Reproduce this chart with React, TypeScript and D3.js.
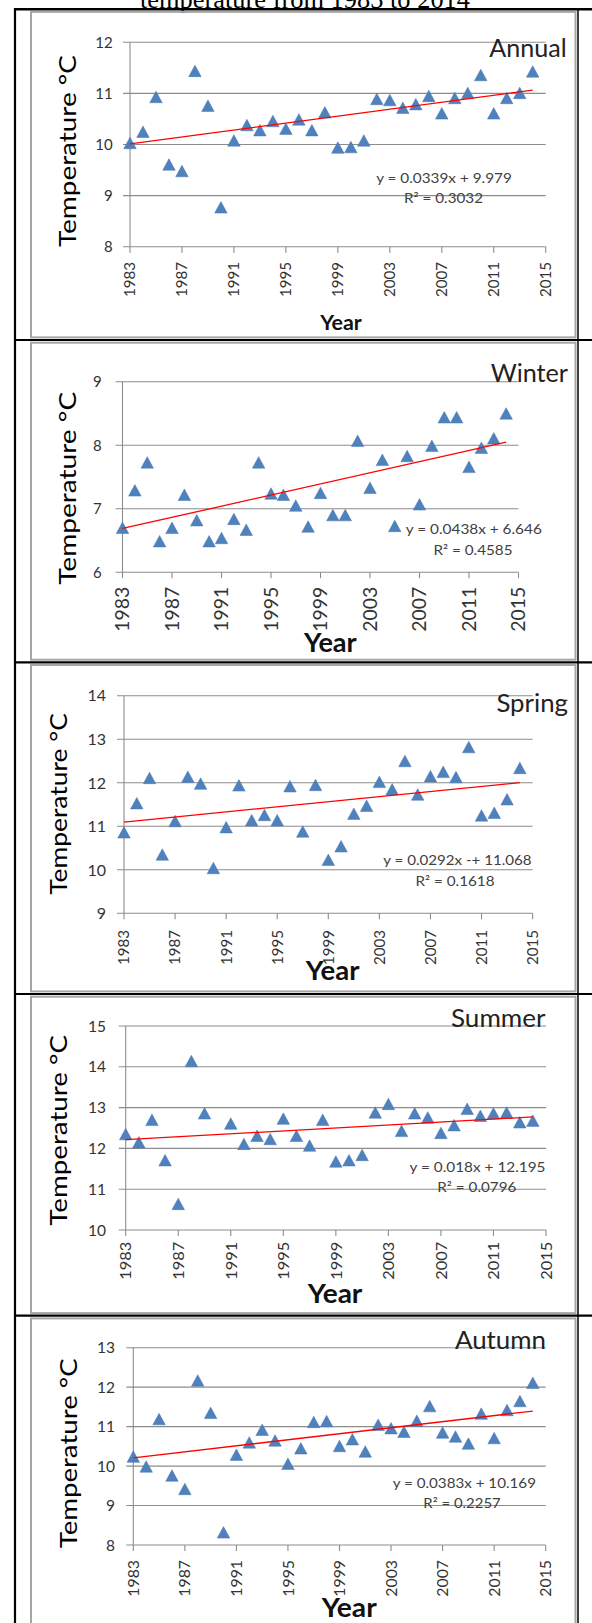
import React from 'react';
import * as d3 from 'd3';

const years = [1983, 1984, 1985, 1986, 1987, 1988, 1989, 1990, 1991, 1992, 1993, 1994, 1995, 1996, 1997, 1998,
  1999, 2000, 2001, 2002, 2003, 2004, 2005, 2006, 2007, 2008, 2009, 2010, 2011, 2012, 2013, 2014];

const annualTemp = [10.03, 10.25, 10.93, 9.61, 9.48, 11.44, 10.76, 8.77, 10.08, 10.38, 10.28, 10.46, 10.31, 10.49, 10.28, 10.63,
  9.94, 9.95, 10.08, 10.89, 10.87, 10.72, 10.79, 10.95, 10.61, 10.91, 11.01, 11.36, 10.61, 10.91, 11.01, 11.43];
const winterTemp = [6.70, 7.29, 7.73, 6.49, 6.70, 7.22, 6.82, 6.49, 6.54, 6.84, 6.67, 7.73, 7.24, 7.22, 7.05, 6.72,
  7.25, 6.90, 6.90, 8.07, 7.33, 7.77, 6.73, 7.83, 7.07, 7.99, 8.44, 8.44, 7.66, 7.96, 8.11, 8.50];
const springTemp = [10.86, 11.53, 12.11, 10.35, 11.12, 12.14, 11.98, 10.04, 10.98, 11.94, 11.14, 11.26, 11.14, 11.92, 10.88, 11.95,
  10.23, 10.54, 11.29, 11.47, 12.02, 11.85, 12.50, 11.73, 12.15, 12.25, 12.13, 12.82, 11.25, 11.31, 11.62, 12.34];
const summerTemp: (number | null)[] = [12.35, 12.15, 12.70, 11.71, 10.64, 14.14, 12.86, null, 12.61, 12.11, 12.31, 12.23, 12.73, 12.31, 12.07, 12.70,
  11.68, 11.71, 11.84, 12.88, 13.09, 12.43, 12.86, 12.76, 12.38, 12.57, 12.97, 12.80, 12.86, 12.88, 12.64, 12.68];
const autumnTemp = [10.24, 9.99, 11.19, 9.76, 9.42, 12.17, 11.35, 8.32, 10.29, 10.60, 10.92, 10.65, 10.06, 10.45, 11.12, 11.14,
  10.51, 10.68, 10.37, 11.05, 10.96, 10.87, 11.15, 11.52, 10.85, 10.75, 10.57, 11.33, 10.71, 11.42, 11.65, 12.11];

const seasonNames = ['Annual', 'Winter', 'Spring', 'Summer', 'Autumn'];
const xTickYears = [1983, 1987, 1991, 1995, 1999, 2003, 2007, 2011, 2015];
const annualTicks = [8, 9, 10, 11, 12];
const winterTicks = [6, 7, 8, 9];
const springTicks = [9, 10, 11, 12, 13, 14];
const summerTicks = [10, 11, 12, 13, 14, 15];
const autumnTicks = [8, 9, 10, 11, 12, 13];
const trendSlopes = [0.0339, 0.0438, 0.0292, 0.018, 0.0383];
const trendIntercepts = [9.979, 6.646, 11.068, 12.195, 10.169];
const equationLabels = ['y = 0.0339x + 9.979', 'y = 0.0438x + 6.646', 'y = 0.0292x -+ 11.068', 'y = 0.018x + 12.195', 'y = 0.0383x + 10.169'];
const r2Labels = ['R\u00B2 = 0.3032', 'R\u00B2 = 0.4585', 'R\u00B2 = 0.1618', 'R\u00B2 = 0.0796', 'R\u00B2 = 0.2257'];
const titleText = 'temperature from 1983 to 2014';

const seriesList = [annualTemp, winterTemp, springTemp, summerTemp, autumnTemp];
const tickList = [annualTicks, winterTicks, springTicks, summerTicks, autumnTicks];

// layout (pixel geometry of each panel)
const layouts = [
  { left: 130, right: 545.7, top: 42.3, bottom: 246.7, yLabEnd: 112.7, yFs: 15, xLabTop: 262, xLen: 35, xFs: 15,
    tBase: 75.5, tMid: 151, tLen: 192, yearX: 341, yearBase: 330, yearLen: 41.7, yearFs: 20,
    nameRight: 566.7, nameBase: 56.5, nameLen: 77.4, eqX: 444, eqBase: 183, eqLen: 135.7, r2X: 443.5, r2Base: 202.5, r2Len: 79 },
  { left: 122.5, right: 518.5, top: 381.7, bottom: 572.3, yLabEnd: 101.7, yFs: 15, xLabTop: 586.7, xLen: 45, xFs: 19,
    tBase: 75.5, tMid: 488.3, tLen: 193, yearX: 330.3, yearBase: 651.7, yearLen: 52.8, yearFs: 26,
    nameRight: 568, nameBase: 382.3, nameLen: 77.3, eqX: 473.8, eqBase: 534, eqLen: 136, r2X: 473, r2Base: 554.5, r2Len: 79 },
  { left: 124, right: 532.6, top: 695.7, bottom: 913.3, yLabEnd: 106, yFs: 16, xLabTop: 930, xLen: 35, xFs: 15,
    tBase: 67, tMid: 804, tLen: 181.7, yearX: 332.6, yearBase: 980, yearLen: 53.6, yearFs: 26,
    nameRight: 568, nameBase: 711.7, nameLen: 71.6, eqX: 457.4, eqBase: 865, eqLen: 148.3, r2X: 455, r2Base: 885.5, r2Len: 79 },
  { left: 125.7, right: 546, top: 1026, bottom: 1230, yLabEnd: 106, yFs: 15.5, xLabTop: 1241.7, xLen: 38, xFs: 16,
    tBase: 67, tMid: 1130.3, tLen: 190.7, yearX: 335, yearBase: 1303, yearLen: 54.7, yearFs: 26,
    nameRight: 545.5, nameBase: 1026.5, nameLen: 94.5, eqX: 477.5, eqBase: 1171.5, eqLen: 136, r2X: 476.8, r2Base: 1192, r2Len: 79 },
  { left: 133.3, right: 545.7, top: 1347.7, bottom: 1545, yLabEnd: 115, yFs: 15.5, xLabTop: 1560, xLen: 36.7, xFs: 15.5,
    tBase: 77, tMid: 1453.3, tLen: 190, yearX: 349.2, yearBase: 1617, yearLen: 55, yearFs: 26,
    nameRight: 546, nameBase: 1349, nameLen: 91, eqX: 464.3, eqBase: 1488, eqLen: 143.3, r2X: 462, r2Base: 1508, r2Len: 77.4 },
];

const separators = [340, 662.3, 994, 1315.7];
const frameTops = [11.9, 342.7, 665, 996.7, 1318.4];
const frameBottoms = [337.4, 659.7, 991.4, 1313.1, 1640];

const FONT = 'Lato, "Open Sans", sans-serif';
const GRID = '#8c8c8c';
const BLUE = '#4F81BD';

function triangle(x: number, y: number, w = 12.5, h = 11.5) {
  return `M${x},${y - h / 2}L${x + w / 2},${y + h / 2}L${x - w / 2},${y + h / 2}Z`;
}

function Panel({ idx }: { idx: number }) {
  const L = layouts[idx];
  const ticks = tickList[idx];
  const series = seriesList[idx];
  const x = d3.scaleLinear().domain([1983, 2015]).range([L.left, L.right]);
  const y = d3.scaleLinear().domain([d3.min(ticks)!, d3.max(ticks)!]).range([L.bottom, L.top]);
  const a = trendSlopes[idx];
  const b = trendIntercepts[idx];
  const trendPts: [number, number][] = [years[0], years[years.length - 1]].map(yr => [yr, a * (yr - 1982) + b]);
  const line = d3.line<[number, number]>().x(d => x(d[0])).y(d => y(d[1]));
  return (
    <g>
      {ticks.map(t => (
        <g key={t}>
          <line x1={L.left - 7} x2={L.right} y1={y(t)} y2={y(t)} stroke={GRID} strokeWidth={1.1} />
          <text x={L.yLabEnd} y={y(t)} dy="0.36em" textAnchor="end" fontFamily={FONT} fontSize={L.yFs} fill="#333">{t}</text>
        </g>
      ))}
      <line x1={L.left} x2={L.left} y1={L.top} y2={L.bottom} stroke={GRID} strokeWidth={1.1} />
      {xTickYears.map(t => (
        <g key={t}>
          <line x1={x(t)} x2={x(t)} y1={L.bottom} y2={L.bottom + 6} stroke={GRID} strokeWidth={1.1} />
          <text transform={`translate(${x(t)},${L.xLabTop}) rotate(-90)`} dy="0.36em" textAnchor="end"
            fontFamily={FONT} fontSize={L.xFs} fill="#333" textLength={L.xLen} lengthAdjust="spacingAndGlyphs">{t}</text>
        </g>
      ))}
      {years.map((yr, i) => series[i] == null ? null : (
        <path key={yr} d={triangle(x(yr), y(series[i] as number))} fill={BLUE} stroke="#4677b3" strokeWidth={0.5} />
      ))}
      <path d={line(trendPts) || ''} stroke="#ff0000" strokeWidth={1.3} fill="none" />
      <text transform={`translate(${L.tBase},${L.tMid}) rotate(-90)`} textAnchor="middle" fontFamily={FONT}
        fontSize={23} fill="#000" textLength={L.tLen} lengthAdjust="spacingAndGlyphs">Temperature °C</text>
      <text x={L.yearX} y={L.yearBase} textAnchor="middle" fontFamily={FONT} fontWeight="bold" fontSize={L.yearFs}
        fill="#111" textLength={L.yearLen} lengthAdjust="spacingAndGlyphs">Year</text>
      <text x={L.nameRight} y={L.nameBase} textAnchor="end" fontFamily={FONT} fontSize={25} fill="#222"
        textLength={L.nameLen} lengthAdjust="spacingAndGlyphs">{seasonNames[idx]}</text>
      <text x={L.eqX} y={L.eqBase} textAnchor="middle" fontFamily={FONT} fontSize={14} fill="#404040"
        textLength={L.eqLen} lengthAdjust="spacingAndGlyphs">{equationLabels[idx]}</text>
      <text x={L.r2X} y={L.r2Base} textAnchor="middle" fontFamily={FONT} fontSize={14} fill="#404040"
        textLength={L.r2Len} lengthAdjust="spacingAndGlyphs">{r2Labels[idx]}</text>
    </g>
  );
}

export default function App() {
  return (
    <svg width={592} height={1623} viewBox="0 0 592 1623"
      style={{ position: 'absolute', left: 0, top: 0, background: '#fff', display: 'block' }}>
      <rect x={0} y={0} width={592} height={1623} fill="#fff" />
      <text x={305} y={8} textAnchor="middle" fontFamily='"Liberation Serif", "Times New Roman", serif' fontSize={26}
        fill="#000" textLength={330} lengthAdjust="spacingAndGlyphs">{titleText}</text>
      {frameTops.map((t, i) => (
        <rect key={i} x={31} y={t} width={544.5} height={frameBottoms[i] - t} fill="none" stroke="#a6a6a6" strokeWidth={2} />
      ))}
      <line x1={15} x2={15} y1={8} y2={1623} stroke="#000" strokeWidth={2.2} />
      <line x1={578} x2={578} y1={8} y2={1623} stroke="#000" strokeWidth={1.5} />
      <line x1={14} x2={592} y1={9.3} y2={9.3} stroke="#000" strokeWidth={2.4} />
      {separators.map(s => (
        <line key={s} x1={14} x2={592} y1={s} y2={s} stroke="#000" strokeWidth={2.2} />
      ))}
      {seasonNames.map((_, i) => <Panel key={i} idx={i} />)}
    </svg>
  );
}
